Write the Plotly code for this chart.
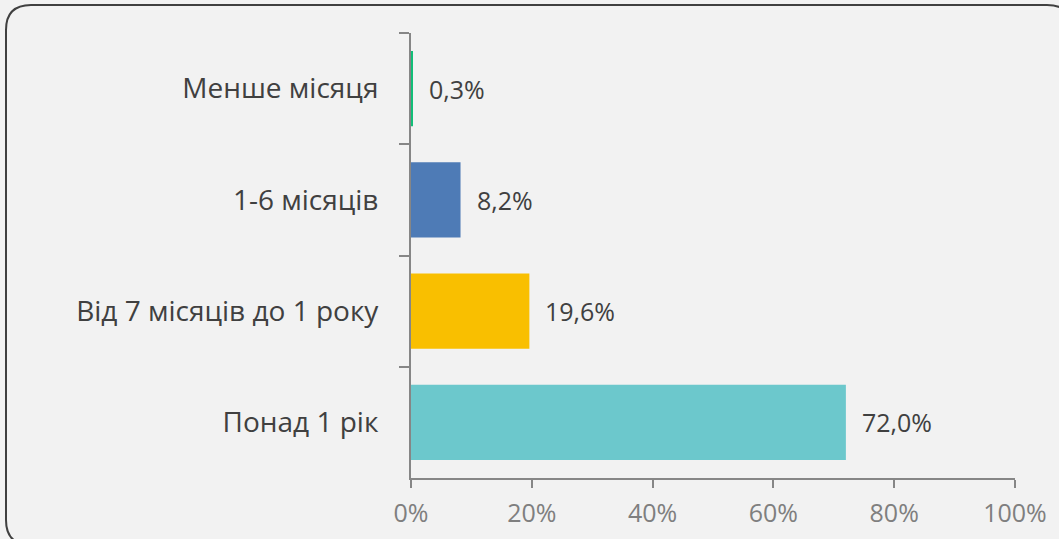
import plotly.graph_objects as go

categories = ["Менше місяця", "1-6 місяців", "Від 7 місяців до 1 року", "Понад 1 рік"]
values = [0.003, 0.082, 0.196, 0.720]
value_labels = ["0,3%", "8,2%", "19,6%", "72,0%"]
bar_colors = ["#12BE78", "#4E7BB6", "#F9BF00", "#6CC8CC"]
x_tickvals = [0, 0.2, 0.4, 0.6, 0.8, 1.0]
x_ticktext = ["0%", "20%", "40%", "60%", "80%", "100%"]

W, H = 1059, 539
L, T = 411, 33
R, B = W - 1015, H - 478
pw, ph = W - L - R, H - T - B

FONT = "Open Sans"

fig = go.Figure()
fig.add_trace(go.Bar(
    x=values, y=categories, orientation="h",
    marker=dict(color=bar_colors, line=dict(width=0)),
    width=0.675, hoverinfo="skip",
))

for v, c, t in zip(values, categories, value_labels):
    fig.add_annotation(x=v, y=c, text=t, xref="x", yref="y",
                       xanchor="left", yanchor="middle", xshift=14, showarrow=False,
                       font=dict(family=FONT, size=25, color="#404040"))

# rounded border (decorative frame), in page pixels
def px(x):
    return (x - L) / pw

def py(y):
    return (H - B - y) / ph

x0, y0, x1, y1, r = 6, 5, 1072, 545, 25
path = (
    f"M {px(x0)} {py(y0 + r)} "
    f"Q {px(x0)} {py(y0)} {px(x0 + r)} {py(y0)} "
    f"L {px(x1 - r)} {py(y0)} "
    f"Q {px(x1)} {py(y0)} {px(x1)} {py(y0 + r)} "
    f"L {px(x1)} {py(y1 - r)} "
    f"Q {px(x1)} {py(y1)} {px(x1 - r)} {py(y1)} "
    f"L {px(x0 + r)} {py(y1)} "
    f"Q {px(x0)} {py(y1)} {px(x0)} {py(y1 - r)} Z"
)
fig.add_shape(type="path", path=path, xref="paper", yref="paper",
              line=dict(color="#404040", width=2), layer="below")

fig.update_layout(
    width=W, height=H,
    margin=dict(l=L, r=R, t=T, b=B, pad=0, autoexpand=False),
    paper_bgcolor="#F2F2F2", plot_bgcolor="#F2F2F2",
    showlegend=False, bargap=0.325,
    font=dict(family=FONT, color="#404040"),
    xaxis=dict(range=[0, 1], tickvals=x_tickvals, ticktext=x_ticktext,
               automargin=False,
               showgrid=False, zeroline=False, showline=True,
               linecolor="#868686", linewidth=2,
               ticks="outside", ticklen=8, tickwidth=2, tickcolor="#868686",
               ticklabelstandoff=4,
               tickfont=dict(family=FONT, size=25, color="#7F7F7F")),
    yaxis=dict(type="category", categoryorder="array", categoryarray=categories,
               autorange="reversed", automargin=False,
               showgrid=False, zeroline=False,
               showline=True, linecolor="#868686", linewidth=2,
               ticks="outside", ticklen=10, tickwidth=2, tickcolor="#868686",
               tickson="boundaries", ticklabelstandoff=25,
               tickfont=dict(family=FONT, size=28, color="#404040")),
)

page_css = (
    "var s=document.documentElement.style;s.margin='0';s.padding='0';"
    "s.overflow='hidden';s.height='539px';"
    "var b=document.body.style;b.margin='0';b.padding='0';b.overflow='hidden';"
    "b.height='539px';b.background='#F2F2F2';"
)

fig.write_html(
    "out.html",
    config={"displayModeBar": False, "responsive": False},
    post_script=page_css,
)
